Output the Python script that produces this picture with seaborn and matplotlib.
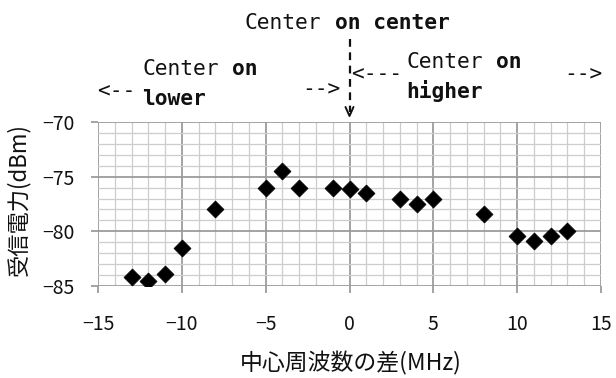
import matplotlib
matplotlib.use("Agg")
import matplotlib.pyplot as plt
from matplotlib.ticker import MultipleLocator
from matplotlib.lines import Line2D
import pandas as pd
import seaborn as sns

# ---- data ----
freq_diff = [-13, -12, -11, -10, -8, -5, -4, -3, -1, 0, 1, 3, 4, 5, 8, 10, 11, 12, 13]
power_dbm = [-84.15, -84.55, -83.9, -81.5, -77.95, -76.0, -74.5, -76.0, -76.0, -76.1,
             -76.5, -77.0, -77.5, -77.0, -78.45, -80.4, -80.9, -80.4, -79.95]
x_ticks = [-15, -10, -5, 0, 5, 10, 15]
y_ticks = [-85, -80, -75, -70]
x_label = "中心周波数の差(MHz)"
y_label = "受信電力(dBm)"

sns.set_theme(style="white")
plt.rcParams["font.family"] = ["Noto Sans CJK JP", "DejaVu Sans"]

W, H = 616, 378
fig = plt.figure(figsize=(W / 100, H / 100), dpi=100)
ax = fig.add_axes([98 / W, 1 - 286 / H, 503 / W, 164 / H])

df = pd.DataFrame({"freq": freq_diff, "power": power_dbm})
sns.scatterplot(data=df, x="freq", y="power", marker="D", s=75, color="black",
                edgecolor="black", linewidth=0.5, ax=ax, zorder=3, legend=False)

ax.set_xlim(x_ticks[0], x_ticks[-1])
ax.set_ylim(y_ticks[0], y_ticks[-1])
ax.set_xticks(x_ticks)
ax.set_yticks(y_ticks)
ax.xaxis.set_minor_locator(MultipleLocator(1))
ax.yaxis.set_minor_locator(MultipleLocator(1))
ax.grid(which="major", color="#9c9c9c", linewidth=1.3)
ax.grid(which="minor", color="#cdcdcd", linewidth=0.9)
ax.set_axisbelow(True)
for sp in ax.spines.values():
    sp.set_visible(False)
ax.tick_params(which="major", bottom=True, left=True, length=5, width=1.3,
               color="#9c9c9c", direction="out", labelsize=14, labelcolor="#111111")
ax.tick_params(axis="x", which="major", pad=15)
ax.tick_params(axis="y", which="major", pad=12)
ax.tick_params(which="minor", length=0)

ax.set_xlabel(x_label, fontsize=16.5, color="#111111")
ax.xaxis.set_label_coords((351 - 98) / 503, (286 - 351) / 164)
ax.set_ylabel(y_label, fontsize=16, color="#111111")
ax.yaxis.set_label_coords((30 - 98) / 503, 0.53)

# ---- annotations above the plot (figure pixel layout) ----
mono = "DejaVu Sans Mono"
fs = 15.3
pitch = 0.602 * fs * 100 / 72  # monospace advance in pixels


def ftxt(x, y, s, bold=False, col=0):
    fig.text((x + col * pitch) / W, 1 - y / H, s, ha="left", va="baseline", fontsize=fs,
             family=mono, fontweight="bold" if bold else "normal", color="#111111")


ftxt(245, 29, "Center")
ftxt(245, 29, "on center", bold=True, col=7)
ftxt(142, 75, "Center")
ftxt(142, 75, "on", bold=True, col=7)
ftxt(142, 105, "lower", bold=True)
ftxt(97, 97, "<--")
ftxt(302, 95, "-->")
ftxt(351, 80, "<---")
ftxt(406, 68, "Center")
ftxt(406, 68, "on", bold=True, col=7)
ftxt(406, 98, "higher", bold=True)
ftxt(564, 80, "-->")

# dashed vertical pointer at x = 0
x0 = ax.transData.transform((0, -70))[0]
fig.add_artist(Line2D([x0 / W, x0 / W], [1 - 39 / H, 1 - 112 / H],
                      transform=fig.transFigure, color="#111111", lw=1.6,
                      linestyle=(0, (3.5, 2.5))))
fig.add_artist(Line2D([(x0 - 4) / W, x0 / W, (x0 + 4) / W],
                      [1 - 107 / H, 1 - 116 / H, 1 - 107 / H],
                      transform=fig.transFigure, color="#111111", lw=1.4))

fig.savefig("out.png", dpi=100)
